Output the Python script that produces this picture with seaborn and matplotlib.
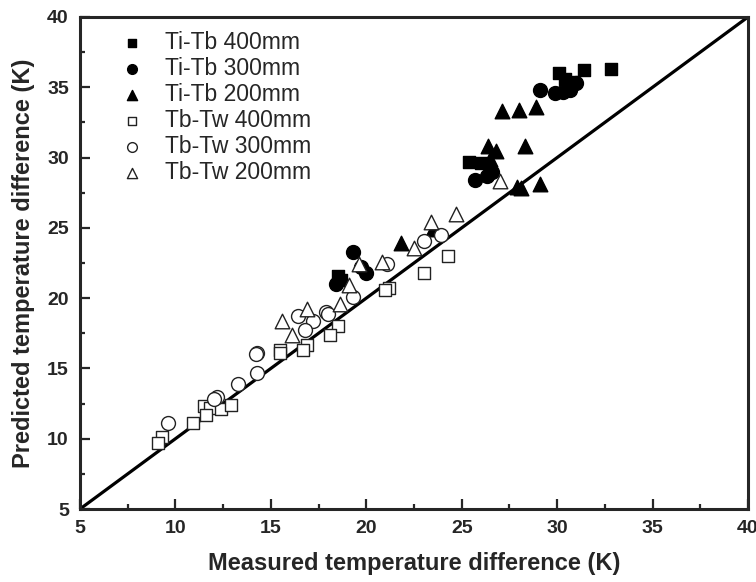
import matplotlib
matplotlib.use("Agg")
import matplotlib.pyplot as plt
import seaborn as sns
import numpy as np
from matplotlib.ticker import MultipleLocator

# measured / predicted temperature differences
titb400_x = [30.1, 30.4, 30.8, 31.4, 32.8, 25.4, 26.0, 18.5, 18.7]
titb400_y = [36.0, 35.6, 35.4, 36.2, 36.3, 29.7, 29.6, 21.6, 21.3]

titb300_x = [29.1, 29.9, 30.3, 30.7, 31.0, 25.7, 26.3, 26.6, 19.3, 18.4, 19.7, 20.0]
titb300_y = [34.8, 34.6, 34.7, 34.8, 35.3, 28.4, 28.7, 29.0, 23.3, 21.0, 22.2, 21.8]

titb200_x = [27.1, 28.0, 28.9, 28.3, 29.1, 27.9, 28.1, 26.4, 26.8, 26.5, 21.8, 23.5]
titb200_y = [33.3, 33.4, 33.6, 30.8, 28.1, 27.9, 27.8, 30.8, 30.5, 29.9, 23.9, 24.9]

tbtw400_x = [24.3, 23.0, 21.2, 21.0, 18.5, 18.1, 16.9, 16.7, 15.5, 15.5,
             11.5, 11.8, 12.4, 12.9, 11.6, 10.9, 9.3, 9.1]
tbtw400_y = [23.0, 21.8, 20.7, 20.6, 18.0, 17.4, 16.7, 16.3, 16.3, 16.1,
             12.3, 12.2, 12.1, 12.4, 11.7, 11.1, 10.1, 9.7]

tbtw300_x = [23.9, 23.0, 21.1, 19.3, 17.9, 16.4, 17.2, 16.8, 18.0, 14.3,
             14.2, 14.3, 13.3, 12.2, 12.0, 9.6]
tbtw300_y = [24.5, 24.1, 22.4, 20.1, 19.0, 18.7, 18.4, 17.7, 18.9, 16.1,
             16.0, 14.7, 13.9, 13.0, 12.8, 11.1]

tbtw200_x = [24.7, 23.4, 22.5, 20.8, 19.6, 19.1, 18.6, 16.9, 15.6, 16.1, 27.0]
tbtw200_y = [26.0, 25.4, 23.6, 22.6, 22.4, 20.9, 19.6, 19.2, 18.4, 17.4, 28.3]

sns.set_style("ticks")
plt.rcParams['font.family'] = ['Liberation Sans', 'DejaVu Sans']

fig = plt.figure(figsize=(7.56, 5.82), dpi=100)
ax = fig.add_axes([0.1058, 0.1254, 0.8836, 0.8454])

# y = x reference line
ax.plot([5, 40], [5, 40], color="black", lw=2.3, zorder=1)

series = [
    (titb400_x, titb400_y, "s", "black", "Ti-Tb 400mm", 85),
    (titb300_x, titb300_y, "o", "black", "Ti-Tb 300mm", 100),
    (titb200_x, titb200_y, "^", "black", "Ti-Tb 200mm", 110),
    (tbtw400_x, tbtw400_y, "s", "white", "Tb-Tw 400mm", 85),
    (tbtw300_x, tbtw300_y, "o", "white", "Tb-Tw 300mm", 100),
    (tbtw200_x, tbtw200_y, "^", "white", "Tb-Tw 200mm", 110),
]
for i, (xs, ys, mk, fc, lab, sz) in enumerate(series):
    sns.scatterplot(x=xs, y=ys, marker=mk, s=sz, facecolor=fc,
                    edgecolor="#222222" if fc == "white" else "black",
                    linewidth=1.0, label=lab, ax=ax, zorder=2 + i)

ax.set_xlim(5, 40)
ax.set_ylim(5, 40)
ax.xaxis.set_major_locator(MultipleLocator(5))
ax.yaxis.set_major_locator(MultipleLocator(5))
ax.xaxis.set_minor_locator(MultipleLocator(2.5))
ax.yaxis.set_minor_locator(MultipleLocator(2.5))
ax.tick_params(which="major", direction="in", length=7, width=1.6, pad=8,
               labelsize=14)
ax.tick_params(which="minor", direction="in", length=3.5, width=1.6)
for lbl in ax.get_xticklabels() + ax.get_yticklabels():
    lbl.set_fontweight("bold")
for sp in ax.spines.values():
    sp.set_linewidth(2.2)

ax.set_xlabel("Measured temperature difference (K)", fontsize=17,
              fontweight="bold", labelpad=11)
ax.set_ylabel("Predicted temperature difference (K)", fontsize=17,
              fontweight="bold", labelpad=9)

ax.legend(loc="upper left", bbox_to_anchor=(0.03, 0.99), frameon=False,
          fontsize=16.5, markerscale=0.7, handletextpad=0.45,
          labelspacing=0.13, borderaxespad=0)

plt.savefig("out.png", dpi=100)
